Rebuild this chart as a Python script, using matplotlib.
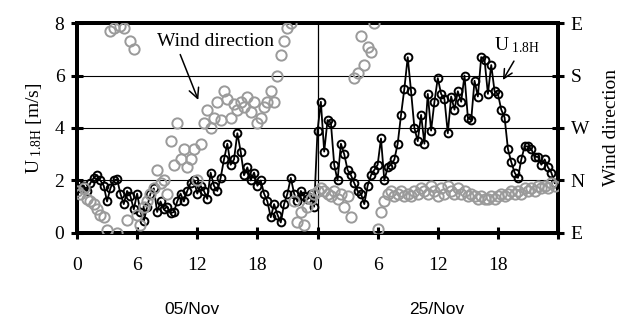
import numpy as np
import matplotlib
matplotlib.use("Agg")
import matplotlib.pyplot as plt

plt.rcParams['font.family'] = ['Liberation Serif', 'DejaVu Serif']
plt.rcParams['mathtext.fontset'] = 'custom'
plt.rcParams['mathtext.rm'] = 'Liberation Serif'
plt.rcParams['mathtext.it'] = 'Liberation Serif:italic'

# ---- data (20-minute samples, hours from 05/Nov 00:00 then 25/Nov 00:00) ----
speed_day1 = [1.9, 1.7, 1.8, 1.6, 1.9, 2.1, 2.2, 2.0, 1.8, 1.2, 1.7, 2.0,
              2.05, 1.5, 1.1, 1.6, 1.4, 0.9, 1.5, 0.8, 0.45, 1.0, 1.5, 1.7,
              0.8, 1.2, 0.9, 1.0, 0.75, 0.8, 1.2, 1.5, 1.2, 1.6, 1.9, 2.0,
              1.5, 1.8, 1.6, 1.3, 2.3, 1.8, 1.6, 2.1, 2.8, 3.4, 2.6, 2.8,
              3.8, 3.1, 2.2, 2.5, 2.0, 2.3, 1.8, 2.0, 1.5, 1.2, 0.6, 1.1,
              0.7, 0.4, 1.1, 1.5, 2.1, 1.5, 1.2, 1.6, 1.4, 1.3, 1.5, 1.0]
speed_day2 = [3.9, 5.0, 3.1, 4.3, 4.2, 2.6, 2.0, 3.4, 3.0, 2.4, 2.2, 1.9,
              1.6, 1.5, 1.1, 1.8, 2.2, 2.4, 2.6, 3.6, 2.0, 2.5, 2.6, 2.8,
              3.4, 4.5, 5.5, 6.7, 5.4, 4.0, 3.5, 4.5, 3.4, 5.3, 3.9, 5.0,
              5.9, 5.3, 5.1, 3.8, 5.2, 4.7, 5.4, 5.0, 6.0, 4.4, 4.3, 5.8,
              5.2, 6.7, 6.6, 5.3, 6.4, 5.4, 5.3, 4.7, 4.4, 3.2, 2.7, 2.3,
              2.1, 2.8, 3.3, 3.3, 3.2, 2.9, 2.9, 2.6, 2.8, 2.5, 2.3, 1.9]
# wind direction on the 0-8 scale: 0=E, 2=N, 4=W, 6=S, 8=E
dir_day1 = [1.6, 1.5, 1.7, 1.3, 1.2, 1.1, 0.9, 0.7, 0.6, 0.1, 7.7, 7.8,
            0.0, 7.9, 7.8, 0.5, 7.3, 7.0, 0.7, 0.3, 1.0, 1.2, 1.5, 1.7,
            2.4, 1.9, 2.0, 1.5, 3.5, 2.6, 4.2, 2.8, 3.2, 2.5, 2.8, 3.2,
            2.0, 3.4, 4.2, 4.7, 4.0, 4.4, 5.0, 4.3, 5.4, 5.1, 4.4, 4.9,
            4.7, 5.0, 4.8, 5.2, 4.6, 5.0, 4.2, 4.4, 4.8, 5.0, 5.4, 5.0,
            6.0, 6.8, 7.3, 7.8, 8.0, 1.2, 0.4, 0.8, 0.3, 1.0, 1.3, 1.5]
dir_day2 = [1.6, 1.7, 1.6, 1.5, 1.4, 1.6, 1.3, 1.5, 1.0, 1.4, 0.6, 5.9,
            6.1, 7.5, 6.4, 7.1, 6.9, 8.0, 0.15, 0.8, 1.2, 1.5, 1.6, 1.4,
            1.5, 1.6, 1.4, 1.5, 1.4, 1.6, 1.5, 1.7, 1.6, 1.5, 1.8, 1.6,
            1.4, 1.7, 1.5, 1.8, 1.6, 1.5, 1.7, 1.5, 1.6, 1.4, 1.5, 1.4,
            1.3, 1.4, 1.3, 1.3, 1.4, 1.3, 1.4, 1.5, 1.4, 1.5, 1.6, 1.5,
            1.6, 1.5, 1.7, 1.6, 1.7, 1.6, 1.8, 1.7, 1.8, 1.7, 1.9, 1.8]

hour_ticks = [0, 6, 12, 18, 24, 30, 36, 42, 48]
hour_labels = ['0', '6', '12', '18', '0', '6', '12', '18', '']
speed_ticks = [0, 2, 4, 6, 8]
dir_labels = ['E', 'N', 'W', 'S', 'E']
day_labels = ['05/Nov', '25/Nov']

speed = np.array(speed_day1 + speed_day2)
direction = np.array(dir_day1 + dir_day2)
t = np.arange(len(speed)) / 3.0

fig = plt.figure(figsize=(6.28, 3.2), dpi=100)
ax = fig.add_axes([0.1226, 0.272, 0.7660, 0.656])

ax.set_xlim(0, 48)
ax.set_ylim(0, 8)
ax.set_yticks(speed_ticks)
ax.set_xticks(hour_ticks)
ax.set_xticklabels(hour_labels)
ax.yaxis.grid(True, color='black', linewidth=0.8)
ax.set_axisbelow(True)
ax.axvline(24, color='black', linewidth=0.9, zorder=1)

ax.plot(t, speed, color='black', linewidth=1.3, marker='o', markersize=5.6,
        markerfacecolor='none', markeredgecolor='black', markeredgewidth=1.4,
        zorder=3)

for s in ax.spines.values():
    s.set_linewidth(2.8)
ax.tick_params(axis='both', direction='inout', length=8, width=2.2,
               labelsize=14)
ax.tick_params(axis='x', pad=13)
ax.tick_params(axis='y', pad=5)
ax.set_ylabel(r'U$_{\rm \ 1.8H}$ [m/s]', fontsize=14, labelpad=8)

ax2 = ax.twinx()
ax2.set_ylim(0, 8)
ax2.set_yticks(speed_ticks)
ax2.set_yticklabels(dir_labels)
ax2.plot(t, direction, linestyle='none', marker='o', markersize=7.4,
         markerfacecolor='none', markeredgecolor='#9a9a9a',
         markeredgewidth=1.4, zorder=4)
for s in ax2.spines.values():
    s.set_linewidth(2.8)
ax2.tick_params(axis='y', direction='inout', length=8, width=2.2,
                labelsize=14, pad=5)
ax2.set_ylabel('Wind direction', fontsize=14, labelpad=10)

# "Wind direction" label with arrow
ax.text(13.8, 7.3, 'Wind direction', ha='center', va='center', fontsize=14,
        zorder=6)
ax.annotate('', xy=(12.1, 5.07), xytext=(10.3, 6.8), textcoords='data',
            arrowprops=dict(arrowstyle='->', color='black', lw=1.1,
                            shrinkA=0, shrinkB=0, mutation_scale=18),
            zorder=6)
# "U 1.8H" label with arrow
ax.text(43.9, 7.15, r'U$_{\rm \ 1.8H}$', ha='center', va='center',
        fontsize=14, zorder=6)
ax.annotate('', xy=(42.5, 5.83), xytext=(43.6, 6.55), textcoords='data',
            arrowprops=dict(arrowstyle='->', color='black', lw=1.1,
                            shrinkA=0, shrinkB=0, mutation_scale=16),
            zorder=6)

fig.text(192 / 628, 1 - 309 / 320, day_labels[0], ha='center', va='center',
         fontsize=12.5, family='Liberation Sans')
fig.text(437 / 628, 1 - 309 / 320, day_labels[1], ha='center', va='center',
         fontsize=12.5, family='Liberation Sans')

fig.savefig('out.png', dpi=100)
